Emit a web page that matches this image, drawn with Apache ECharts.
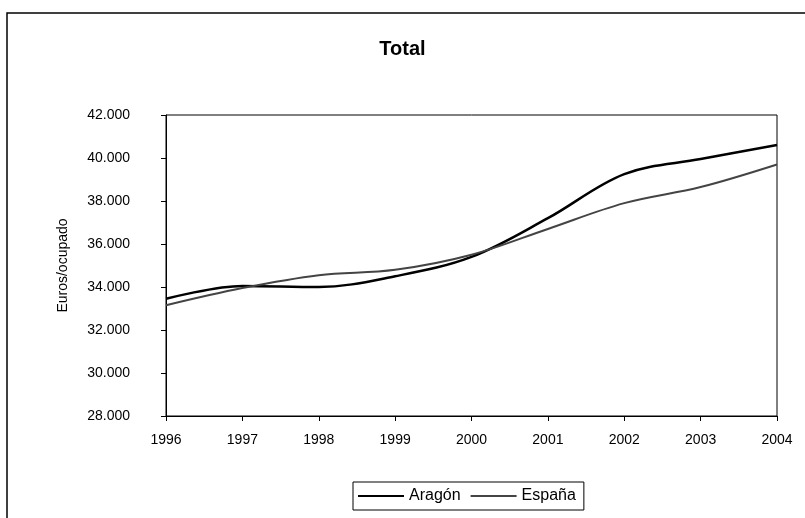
<!DOCTYPE html>
<html lang="es">
<head>
  <meta charset="UTF-8" />
  <title>Total</title>
  <script src="https://cdn.jsdelivr.net/npm/echarts@6.0.0/dist/echarts.min.js"></script>
  <style>
    body { margin: 0; background: #fff; }
    #chart { width: 805px; height: 518px; }
  </style>
</head>
<body>
  <div id="chart"></div>
  <script>
    const years = ['1996', '1997', '1998', '1999', '2000', '2001', '2002', '2003', '2004'];
    const aragon = [33450, 34050, 34000, 34500, 35400, 37200, 39250, 39950, 40600];
    const espana = [33150, 33950, 34550, 34800, 35500, 36700, 37900, 38650, 39700];

    const chart = echarts.init(document.getElementById('chart'));
    const font = 'Liberation Sans, Arial, sans-serif';

    chart.setOption({
      animation: false,
      textStyle: { fontFamily: font },
      title: {
        text: 'Total', left: 'center', top: 34,
        textStyle: { fontSize: 20, fontWeight: 'bold', color: '#000', fontFamily: font }
      },
      graphic: [{
        type: 'rect',
        shape: { x: 7, y: 13, width: 820, height: 540 },
        style: { fill: 'none', stroke: '#000', lineWidth: 1.5 },
        silent: true
      }],
      legend: {
        bottom: 8, left: 353,
        itemWidth: 46, itemHeight: 2, itemGap: 10,
        padding: [6, 8, 6, 5],
        borderColor: '#000', borderWidth: 1,
        icon: 'rect',
        textStyle: { fontSize: 16, color: '#000', fontFamily: font },
        data: ['Aragón', 'España']
      },
      grid: {
        left: 166, right: 28, top: 115, bottom: 102,
        show: true, borderColor: '#000', borderWidth: 1
      },
      xAxis: {
        type: 'category', data: years, boundaryGap: false,
        axisLine: { lineStyle: { color: '#000', width: 1 } },
        axisTick: { length: 5, lineStyle: { color: '#000' } },
        axisLabel: { color: '#000', fontSize: 14, margin: 17 },
        splitLine: { show: false }
      },
      yAxis: {
        type: 'value', min: 28000, max: 42000, interval: 2000,
        name: 'Euros/ocupado', nameLocation: 'middle', nameGap: 96,
        nameTextStyle: { fontSize: 14, color: '#000', fontFamily: font },
        axisLine: { show: true, lineStyle: { color: '#000', width: 1 } },
        axisTick: { show: true, length: 5, lineStyle: { color: '#000' } },
        axisLabel: {
          color: '#000', fontSize: 14, margin: 36, align: 'right',
          formatter: v => v.toLocaleString('de-DE', { minimumFractionDigits: 0 }).replace(/,/g, '.')
        },
        splitLine: { show: false }
      },
      series: [
        {
          name: 'Aragón', type: 'line', data: aragon, smooth: 0.35,
          showSymbol: false, symbol: 'none',
          lineStyle: { color: '#000', width: 2.5 },
          itemStyle: { color: '#000' }
        },
        {
          name: 'España', type: 'line', data: espana, smooth: 0.35,
          showSymbol: false, symbol: 'none',
          lineStyle: { color: '#444', width: 2 },
          itemStyle: { color: '#444' }
        }
      ]
    });
  </script>
</body>
</html>
